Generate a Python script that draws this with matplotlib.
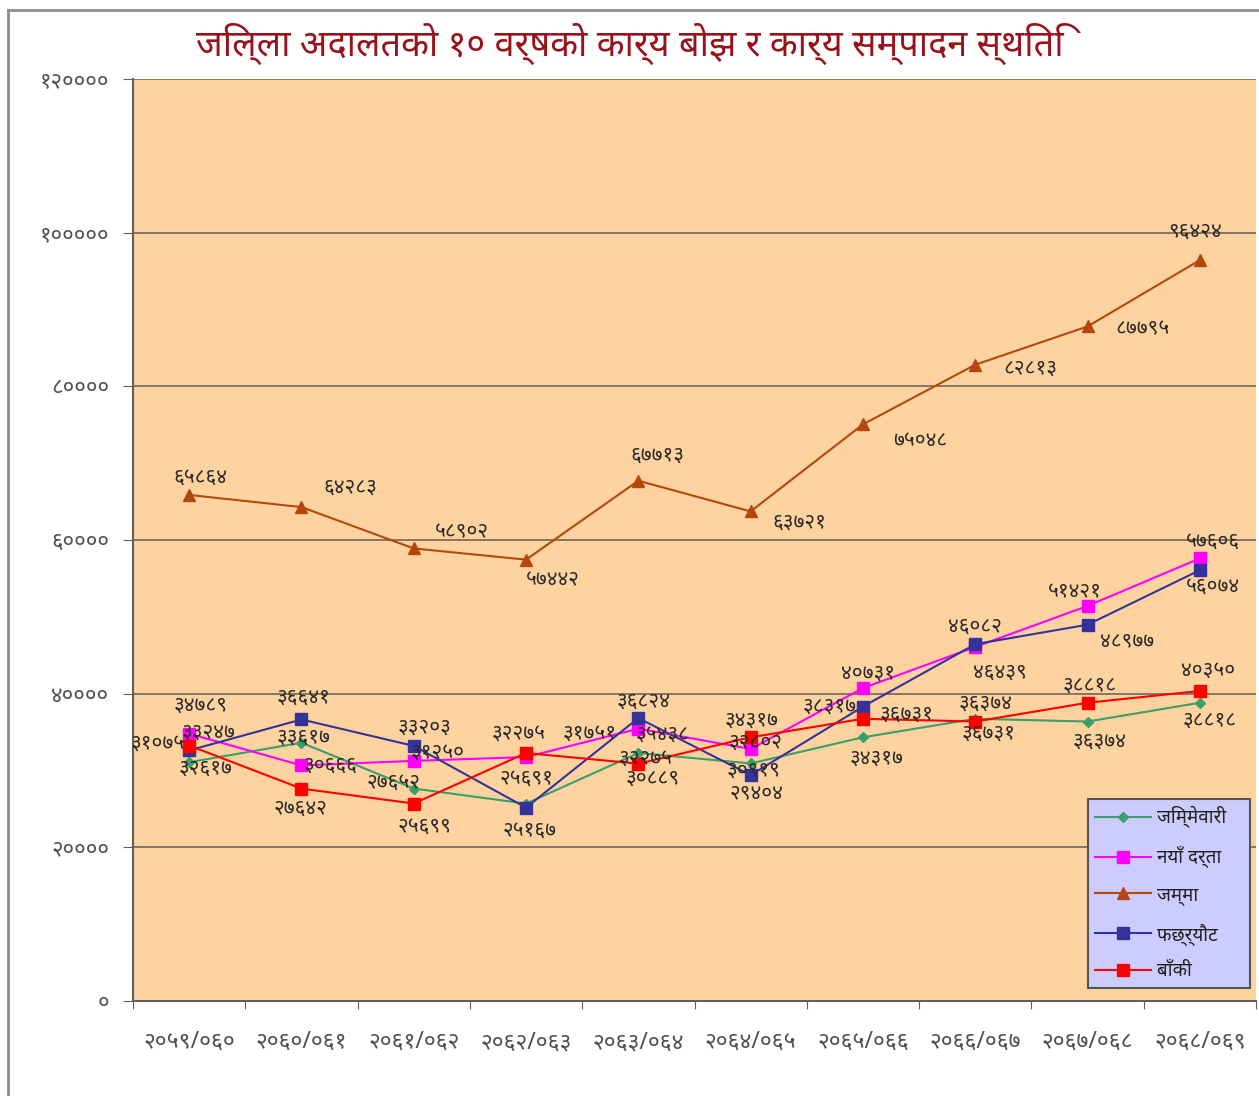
import matplotlib
matplotlib.use("Agg")
import matplotlib.pyplot as plt
from matplotlib import font_manager
from matplotlib.lines import Line2D

# ---------- find a font with Devanagari glyphs ----------
def find_deva():
    try:
        from fontTools.ttLib import TTFont
    except Exception:
        return None
    best = None
    for f in font_manager.fontManager.ttflist:
        try:
            t = TTFont(f.fname, fontNumber=0, lazy=True)
            cmap = t.getBestCmap()
            if cmap and 0x0915 in cmap and 0x0966 in cmap:
                if best is None or 'Sans' in f.name:
                    best = f.name
                    if 'Noto Sans' in f.name:
                        return best
        except Exception:
            pass
    return best

deva = find_deva()
fams = ([deva] if deva else []) + ['DejaVu Sans']
plt.rcParams['font.family'] = fams

# ---------- data ----------
categories = ['२०५९/०६०', '२०६०/०६१', '२०६१/०६२', '२०६२/०६३', '२०६३/०६४',
              '२०६४/०६५', '२०६५/०६६', '२०६६/०६७', '२०६७/०६८', '२०६८/०६९']
jimmewari = [31075, 33617, 27652, 25691, 32275, 30919, 34317, 36731, 36374, 38818]
naya_darta = [34789, 30666, 31250, 31751, 35438, 32802, 40731, 46082, 51421, 57606]
jamma = [65864, 64283, 58902, 57442, 67713, 63721, 75048, 82813, 87795, 96424]
fachhyaut = [32617, 36641, 33203, 25167, 36824, 29404, 38317, 46439, 48977, 56074]
baki = [33247, 27642, 25699, 32275, 30889, 34317, 36731, 36374, 38818, 40350]
series_names = ['जिम्मेवारी', 'नयाँ दर्ता', 'जम्मा', 'फछ्र्यौट', 'बाँकी']
yticks = [0, 20000, 40000, 60000, 80000, 100000, 120000]
title = 'जिल्ला अदालतको १० वर्षको कार्य बोझ र कार्य सम्पादन स्थिति'

DEV = str.maketrans('0123456789', '०१२३४५६७८९')
def dev(n):
    return str(n).translate(DEV)

# label offsets in pixels (style / placement)
off_green = [(-31, 19), (2, 6), (-20, 6), (1, 25), (7, -5), (3, -7), (14, -21), (13, -14), (12, -20), (10, -17)]
off_pink = [(11, 29), (29, 0), (24, 9), (64, 24), (24, -5), (5, 7), (5, 15), (0, 21), (-13, 14), (13, 17)]
off_brown = [(11, 18), (49, 20), (48, 17), (27, -20), (19, 26), (49, -11), (57, -16), (55, -3), (55, -2), (-5, 29)]
off_blue = [(16, -18), (2, 22), (11, 19), (4, -23), (5, 17), (6, -18), (-33, 0), (25, -28), (40, -16), (13, -16)]
off_red = [(19, 13), (-1, -20), (11, -23), (-7, 20), (14, -15), (1, 17), (44, 5), (10, 18), (2, 18), (8, 21)]

W, H = 1259, 1096
fig = plt.figure(figsize=(W / 100, H / 100), dpi=100)
fig.patch.set_facecolor('white')

# outer chart border (partially visible)
fig.add_artist(Line2D([8 / W, 8 / W], [0, 1 - 10 / H], transform=fig.transFigure, color='#8c8c8c', lw=2))
fig.add_artist(Line2D([8 / W, 1], [1 - 10 / H, 1 - 10 / H], transform=fig.transFigure, color='#8c8c8c', lw=2))

ax = fig.add_axes([133 / W, (H - 1001) / H, (1256 - 133) / W, (1001 - 79) / H])
ax.set_facecolor('#FFD3A0')
x = list(range(len(categories)))
ax.set_xlim(-0.5, len(categories) - 0.5)
ax.set_ylim(0, 120000)

ax.set_yticks(yticks)
ax.set_yticklabels([dev(v) for v in yticks], fontsize=16, color='#505050')
ax.yaxis.grid(True, color='#6f665a', lw=1.2)
ax.set_axisbelow(True)

ax.set_xticks([i - 0.5 for i in range(len(categories) + 1)])
ax.set_xticklabels([])
ax.set_xticks(x, minor=True)
ax.set_xticklabels(categories, minor=True, fontsize=16.5, color='#505050')
ax.tick_params(axis='x', which='major', length=6, direction='out', color='#606060')
ax.tick_params(axis='x', which='minor', length=0, pad=21)
ax.tick_params(axis='y', length=7, direction='out', color='#606060', pad=10)

for s in ['top', 'right']:
    ax.spines[s].set_visible(False)
for s in ['left', 'bottom']:
    ax.spines[s].set_color('#606060')
    ax.spines[s].set_linewidth(1.5)

specs = [
    (jimmewari, '#3A9F6A', 'D', 5, off_green),
    (naya_darta, '#FF00FF', 's', 9, off_pink),
    (jamma, '#B5470E', '^', 9, off_brown),
    (fachhyaut, '#333399', 's', 8, off_blue),
    (baki, '#FF0000', 's', 8, off_red),
]
for (vals, col, mk, ms, offs), name in zip(specs, series_names):
    ax.plot(x, vals, color=col, marker=mk, markersize=ms, lw=1.5,
            markeredgecolor=col, label=name, zorder=3)
    for xi, v, (dx, dy) in zip(x, vals, offs):
        ax.annotate(dev(v), (xi, v), xytext=(dx, dy), textcoords='offset pixels',
                    ha='center', va='center', fontsize=15, color='#2a2a2a', zorder=5)

leg = ax.legend(loc='lower left', bbox_to_anchor=(0.850, 0.0141, 0.1447, 0.2061),
                mode='expand', borderaxespad=0, fontsize=13.5, handlelength=3.0,
                labelspacing=0.95, fancybox=False, framealpha=1,
                facecolor='#CCCCFF', edgecolor='#555555', handletextpad=0.3)
leg.get_frame().set_linewidth(1.5)
for t in leg.get_texts():
    t.set_color('#202020')

fig.text(630 / W, 1 - 44 / H, title, ha='center', va='center', fontsize=26,
         fontweight='bold', color='#99111A')

fig.savefig('out.png', dpi=100)
